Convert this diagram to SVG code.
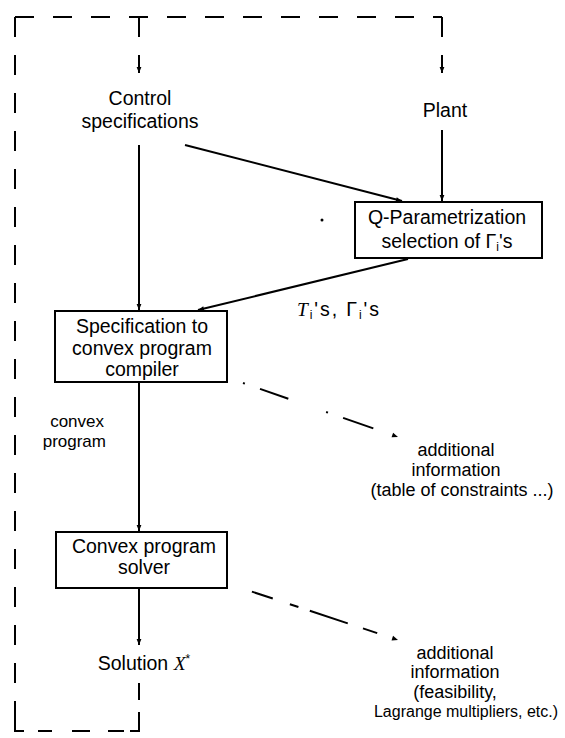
<svg xmlns="http://www.w3.org/2000/svg" width="565" height="738" viewBox="0 0 565 738">
<defs>
<style>
.t{font-family:"Liberation Sans",Arial,sans-serif;font-size:19.5px;fill:#000;text-anchor:middle}
.s{font-size:17px}
.a{font-size:18px}
.b{font-size:16px}
.ln{stroke:#000;stroke-width:2;fill:none}
.box{stroke:#000;stroke-width:2;fill:#fff}
</style>
<marker id="ah" viewBox="0 0 10 10" refX="10" refY="5" markerWidth="9" markerHeight="6" markerUnits="userSpaceOnUse" orient="auto">
<path d="M0,1 L10,5 L0,9 z" fill="#000"/>
</marker>
</defs>
<rect width="565" height="738" fill="#fff"/>
<g id="frame" class="ln">
<path d="M15,17 H442" stroke-dasharray="19 19"/>
<path d="M442,17 V37"/>
<path d="M15,17 V731" stroke-dasharray="20 18"/>
<path d="M15,714 V731 H24"/>
<path d="M38,731 H52 M72,731 H90 M108,731 H124 M130,731 H139 V712 M139,700 V683"/>
</g>
<g id="connectors" class="ln">
<path d="M139,17 V37"/>
<path d="M139,55 V73" marker-end="url(#ah)"/>
<path d="M442,55 V73" marker-end="url(#ah)"/>
<path d="M139,145 V310" marker-end="url(#ah)"/>
<path d="M185,145 L402,201" marker-end="url(#ah)"/>
<path d="M442,130 V201" marker-end="url(#ah)"/>
<path d="M408,259 L198,310" marker-end="url(#ah)"/>
<path d="M139,382 V531" marker-end="url(#ah)"/>
<path d="M139,588 V645" marker-end="url(#ah)"/>
<path d="M243,383 L398,437" stroke-dasharray="2 16 30 40 2 16 32 40" marker-end="url(#ah)"/>
<path d="M250,591 L398,640" stroke-dasharray="0 2 22 18 9 12 40 16 15 100" marker-end="url(#ah)"/>
<circle cx="322" cy="220" r="1.5" fill="#000" stroke="none"/>
</g>
<g id="control-spec">
<text class="t" x="140" y="105">Control</text>
<text class="t" x="140" y="128">specifications</text>
</g>
<g id="plant">
<text class="t" x="445" y="117">Plant</text>
</g>
<g id="q-param">
<rect class="box" x="355" y="202" width="187" height="56"/>
<text class="t" x="447" y="224">Q-Parametrization</text>
<text class="t" x="447" y="248">selection of Γ<tspan font-size="12" dy="3">i</tspan><tspan dy="-3">'s</tspan></text>
</g>
<g id="label-t">
<text class="t" x="297" y="316" style="text-anchor:start" textLength="82" lengthAdjust="spacing"><tspan font-style="italic" font-family="Liberation Serif,serif">T</tspan><tspan font-size="12" dy="3">i</tspan><tspan dy="-3">'s, Γ</tspan><tspan font-size="12" dy="3">i</tspan><tspan dy="-3">'s</tspan></text>
</g>
<g id="spec-compiler">
<rect class="box" x="55" y="311" width="172" height="71"/>
<text class="t" x="142" y="333">Specification to</text>
<text class="t" x="142" y="355">convex program</text>
<text class="t" x="142" y="376">compiler</text>
</g>
<g id="label-convex">
<text class="t s" x="104" y="427" style="text-anchor:end">convex</text>
<text class="t s" x="106" y="447" style="text-anchor:end">program</text>
</g>
<g id="info1">
<text class="t a" x="456" y="456">additional</text>
<text class="t a" x="456" y="476">information</text>
<text class="t a" x="462" y="496">(table of constraints ...)</text>
</g>
<g id="solver">
<rect class="box" x="56" y="532" width="171" height="56"/>
<text class="t" x="144" y="553">Convex program</text>
<text class="t" x="144" y="574">solver</text>
</g>
<g id="solution">
<text class="t" x="144" y="670">Solution <tspan font-style="italic" font-family="Liberation Serif,serif">X</tspan><tspan font-size="12" dy="-7">*</tspan></text>
</g>
<g id="info2">
<text class="t a" x="455" y="659">additional</text>
<text class="t a" x="455" y="678">information</text>
<text class="t a" x="455" y="698">(feasibility,</text>
<text class="t b" x="466" y="717">Lagrange multipliers, etc.)</text>
</g>
</svg>
